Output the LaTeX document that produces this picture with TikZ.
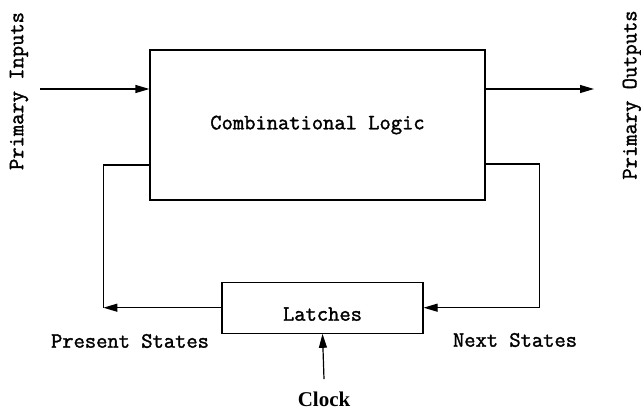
\documentclass[tikz,border=0pt]{standalone}
\usepackage{fontspec}
\newfontfamily\serifbold{Liberation Serif}
\newfontfamily\codefont{Latin Modern Mono}[FakeBold=1.6]
\usetikzlibrary{positioning,calc}
\usetikzlibrary{arrows.meta}

\tikzset{
  blockbox/.style={draw, line width=1.2pt, inner sep=0pt},
  monotext/.style={font=\codefont\fontsize{21.9}{24}\selectfont},
  flow/.style={line width=1.2pt, -{Triangle[length=14pt,width=8pt]}},
  wire/.style={line width=1.2pt}
}

\begin{document}
\begin{tikzpicture}[x=1pt, y=-1pt]
  \useasboundingbox (0,0) rectangle (641,418);

  \node[blockbox, monotext, minimum height=150pt, minimum width=335pt] at (317.5, 125) (logic) {Combinational Logic};
  \node[blockbox, monotext, minimum height=51pt, minimum width=201pt, text height=26pt, text depth=0pt] (latches) [below=81pt of logic, xshift=5pt] {Latches};

  \node[monotext, rotate=90] at (19, 91) (pin) {Primary Inputs};
  \node[monotext, rotate=90] at (632, 95) (pout) {Primary Outputs};
  \node[monotext] at (130, 341) (present) {Present States};
  \node[monotext] at (515, 340) (next) {Next States};
  \node[font=\serifbold\bfseries\fontsize{21}{24}\selectfont] at (324, 399) (clock) {Clock};

  \coordinate (inend) at (40, 89);
  \coordinate (outend) at (594, 89);
  \coordinate[left=118pt of latches.west] (pscorner);
  \coordinate[right=116pt of latches.east] (nscorner);

  \draw[flow] (inend) -- (inend -| logic.west);
  \draw[flow] (outend -| logic.east) -- (outend);

  \draw[wire] ([yshift=-40pt]logic.west) -| (pscorner);
  \draw[flow] (latches.west) -- (pscorner);
  \draw[wire] ([yshift=-39pt]logic.east) -| (nscorner);
  \draw[flow] (nscorner) -- (latches.east);

  \draw[flow] ([yshift=9pt]clock.north) -- (latches.south);

\end{tikzpicture}
\end{document}
